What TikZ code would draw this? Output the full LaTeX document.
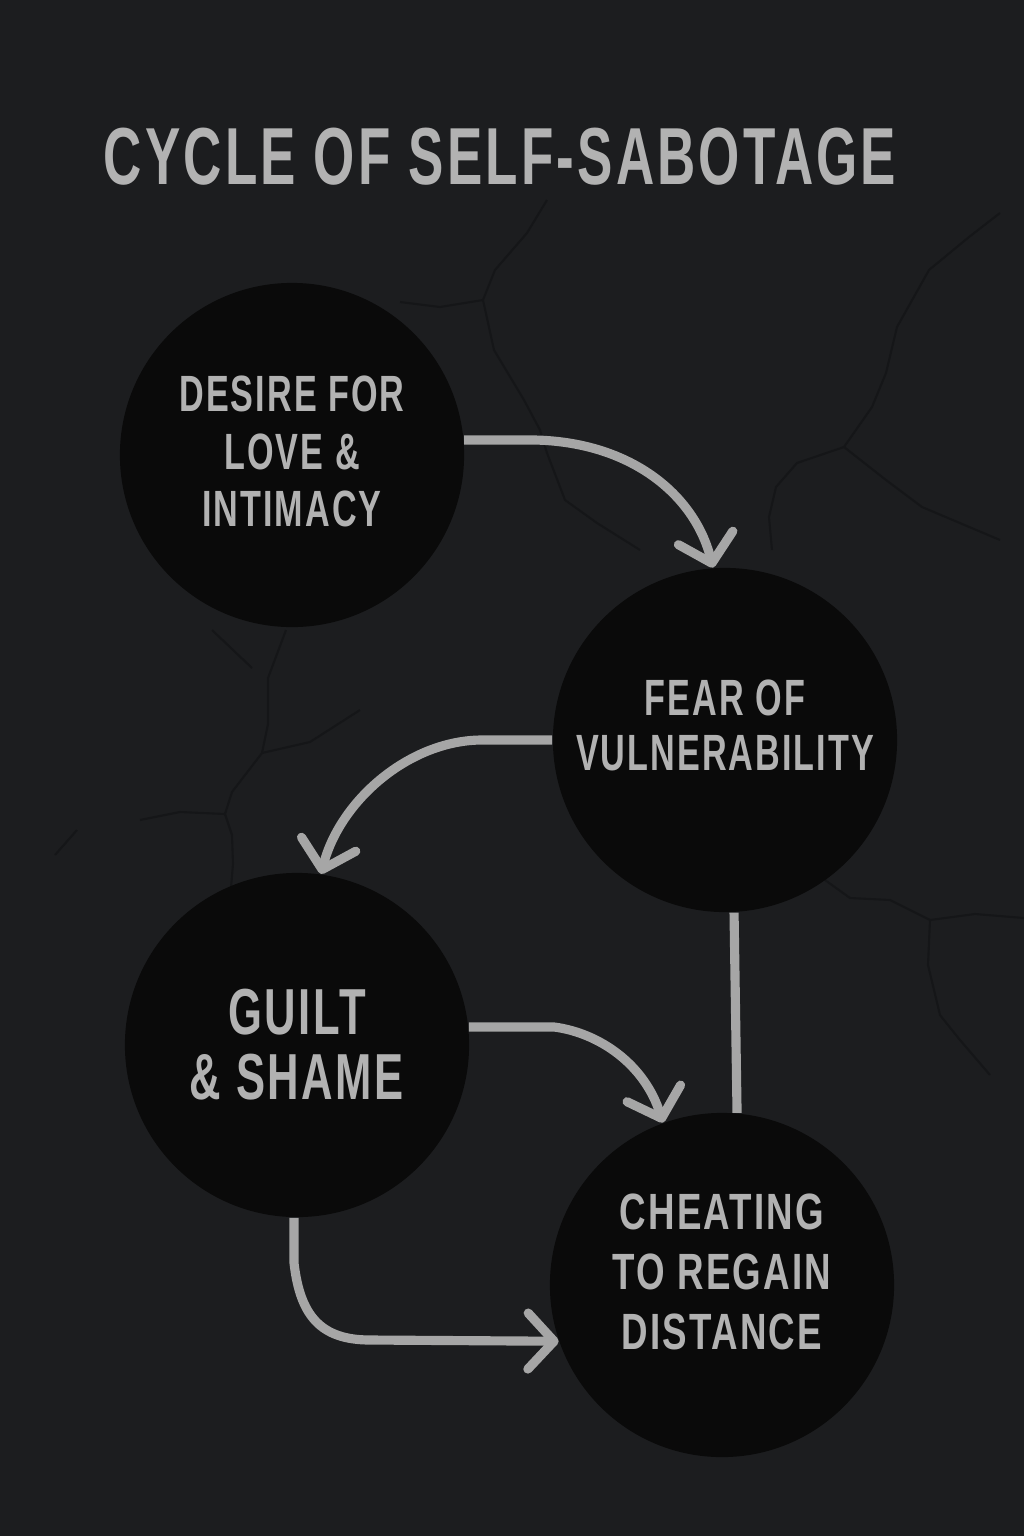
\documentclass[tikz,border=0pt]{standalone}
\usepackage{fontspec}
\setmainfont{Liberation Sans}
\usetikzlibrary{arrows.meta}
\definecolor{bgdark}{HTML}{1C1D1F}
\definecolor{crack}{HTML}{151618}
\definecolor{blob}{HTML}{0A0A0A}
\definecolor{ink}{HTML}{A6A6A6}
\definecolor{letter}{HTML}{B2B2B2}
\newcommand{\narrow}[2][0.67]{\scalebox{#1}[1]{\addfontfeature{LetterSpace=6}#2}}
\newcommand{\sink}[1]{\rule[-#1]{0pt}{#1}}

\begin{document}
\begin{tikzpicture}[x=0.01cm,y=-0.01cm,
  stage/.style={circle,fill=blob,minimum size=3.44cm,inner sep=0pt,
    text=letter,align=center,font=\bfseries\fontsize{14.5}{16.3}\selectfont},
  link/.style={draw=ink,line width=2.6pt,
    -{Straight Barb[length=2.6mm,width=5.6mm,round]}},
  fissure/.style={draw=crack,line width=0.6pt,line join=round}]
\fill [bgdark] (0,0) rectangle (1024,1536);
\useasboundingbox (0,0) rectangle (1024,1536);
% cracks in the wall
\draw [fissure] (547,200) -- (527,233) -- (495,270) -- (483,300) -- (494,350) -- (524,400)
  -- (540,430) -- (547,453) -- (565,500) -- (597,523) -- (640,550);
\draw [fissure] (483,300) -- (440,307) -- (400,302);
\draw [fissure] (1000,213) -- (969,237) -- (929,270) -- (897,327) -- (886,373) -- (872,407)
  -- (844,447) -- (797,463) -- (776,487) -- (769,517) -- (772,550);
\draw [fissure] (844,447) -- (886,480) -- (922,507) -- (1000,540);
\draw [fissure] (286,630) -- (268,678) -- (268,724) -- (262,753) -- (232,792) -- (225,814)
  -- (232,835) -- (233,864) -- (230,900);
\draw [fissure] (262,753) -- (310,742) -- (360,710);
\draw [fissure] (225,814) -- (180,812) -- (140,820);
\draw [fissure] (212,630) -- (252,668);
\draw [fissure] (55,855) -- (77,830);
\draw [fissure] (825,880) -- (850,898) -- (890,900) -- (930,920) -- (928,965) -- (940,1015)
  -- (960,1040) -- (990,1075);
\draw [fissure] (930,920) -- (975,914) -- (1024,918);
\node [text=letter,font=\bfseries\fontsize{23}{26}\selectfont] (title) at (500,157)
  {\narrow[0.655]{CYCLE OF SELF-SABOTAGE}};
\node [stage] (desire) at (292,455)
  {\narrow{DESIRE FOR}\\ \narrow{LOVE \&}\\ \narrow{INTIMACY}\sink{0.7mm}};
\node [stage,font=\bfseries\fontsize{14.5}{15.7}\selectfont] (fear) at (725,740)
  {\narrow{FEAR OF}\\ \narrow{VULNERABILITY}\sink{3mm}};
\node [stage,font=\bfseries\fontsize{18.5}{18.5}\selectfont] (guilt) at (297,1045)
  {\narrow{GUILT}\\ \narrow{\& SHAME}};
\node [stage,font=\bfseries\fontsize{14.5}{17.1}\selectfont] (cheat) at (722,1285)
  {\narrow[0.72]{CHEATING}\\ \narrow[0.72]{TO REGAIN}\\ \narrow[0.72]{DISTANCE}\sink{2.6mm}};
% connectors
\draw [link] (desire.5) -- ++(65,0) .. controls (630,440) and (695,495) .. (fear.94);
\draw [link] (fear.west) -- ++(-70,0) .. controls (410,740) and (340,800) .. (guilt.82);
\draw [link] (guilt.6) -- ++(85,0) .. controls (600,1033) and (645,1065) .. (cheat.110);
\draw [draw=ink,line width=2.6pt] (fear.273) -- (cheat.85);
\draw [link] (guilt.269) -- ++(0,45) .. controls (300,1315) and (320,1340) .. (370,1340) -- (cheat.199);
\end{tikzpicture}
\end{document}
